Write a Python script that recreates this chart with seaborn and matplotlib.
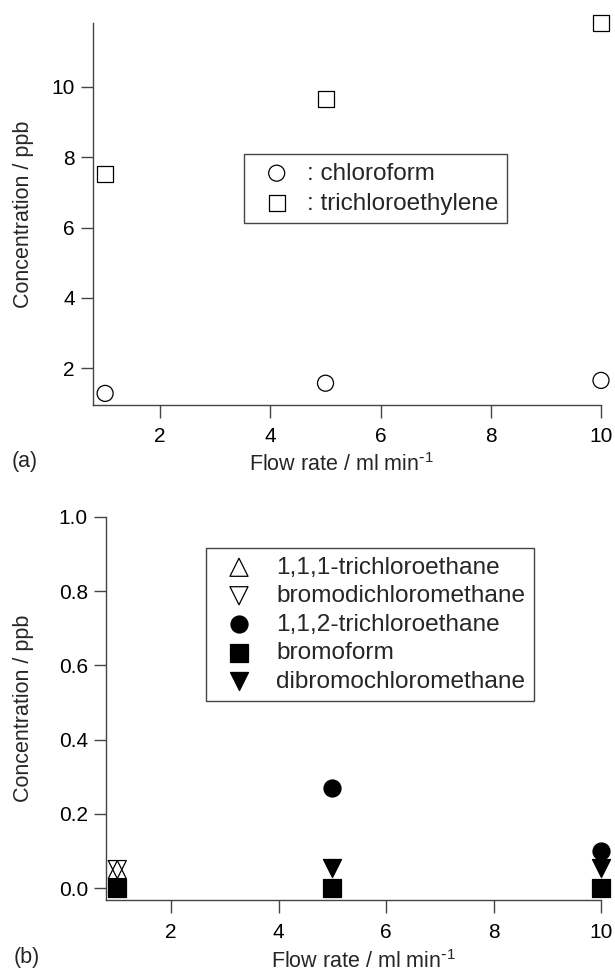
import matplotlib
matplotlib.use("Agg")
import matplotlib.pyplot as plt
import seaborn as sns

# panel (a)
flow_a = [1, 5, 10]
chloroform = [1.28, 1.57, 1.65]
trichloroethylene = [7.52, 9.66, 11.82]

# panel (b)
flow_111 = [1]
trichloroethane_111 = [0.05]
flow_bdcm = [1]
bromodichloromethane = [0.05]
flow_112 = [5, 10]
trichloroethane_112 = [0.27, 0.10]
flow_bromo = [1, 5, 10]
bromoform = [0.0, 0.0, 0.0]
flow_dbcm = [5, 10]
dibromochloromethane = [0.055, 0.055]

xticks = [2, 4, 6, 8, 10]
yticks_a = [2, 4, 6, 8, 10]
yticks_b = [0.0, 0.2, 0.4, 0.6, 0.8, 1.0]

sns.set_style("ticks")
plt.rcParams["font.family"] = ["Liberation Sans", "DejaVu Sans"]
plt.rcParams["mathtext.default"] = "regular"

AX_COLOR = "#444444"
XLABEL = r"Flow rate / ml min$^{\text{-}1}$"
YLABEL = "Concentration / ppb"

fig = plt.figure(figsize=(6.15, 9.76), dpi=100)
W, H = 615, 976


def px_axes(left, right, top, bottom):
    return fig.add_axes([left / W, 1 - bottom / H, (right - left) / W, (bottom - top) / H])


def style_axes(ax, xpad):
    for s in ["top", "right"]:
        ax.spines[s].set_visible(False)
    for s in ["left", "bottom"]:
        ax.spines[s].set_color(AX_COLOR)
        ax.spines[s].set_linewidth(1.0)
    ax.tick_params(axis="both", direction="out", length=9, width=1.0,
                   color=AX_COLOR, labelsize=15, labelcolor="black")
    ax.tick_params(axis="x", pad=xpad)
    ax.tick_params(axis="y", pad=4)
    ax.set_xticks(xticks)
    ax.set_xticklabels([str(t) for t in xticks])
    ax.grid(False)


def add_points(ax, x, y, marker, filled, size, label):
    sns.scatterplot(x=x, y=y, ax=ax, marker=marker, s=size,
                    facecolor="black" if filled else "none",
                    edgecolor="black", linewidth=0.9,
                    clip_on=False, zorder=3, label=label)


# ---- (a)
ax1 = px_axes(93, 601, 23, 405)
add_points(ax1, flow_a, chloroform, "o", False, 133, ": chloroform")
add_points(ax1, flow_a, trichloroethylene, "s", False, 133, ": trichloroethylene")
ax1.set_xlim(0.78, 10)
ax1.set_ylim(0.95, 11.82)
ax1.set_yticks(yticks_a)
ax1.set_yticklabels([str(t) for t in yticks_a])
style_axes(ax1, 6.5)
ax1.set_xlabel(XLABEL, fontsize=15.5)
ax1.set_ylabel(YLABEL, fontsize=15.5)
ax1.xaxis.set_label_coords(0.49, -0.126)
ax1.yaxis.set_label_coords(-0.117, 0.5)
leg1 = ax1.legend(loc="upper left", bbox_to_anchor=(0.297, 0.657), borderaxespad=0,
                  fontsize=17.5, frameon=True, fancybox=False, framealpha=1,
                  edgecolor=AX_COLOR, borderpad=0.35, handlelength=2.0,
                  handletextpad=0.24, labelspacing=0.33, scatterpoints=1)
leg1.get_frame().set_linewidth(1.0)

# ---- (b)
ax2 = px_axes(106, 601, 517, 900)
add_points(ax2, flow_111, trichloroethane_111, "^", False, 169, "1,1,1-trichloroethane")
add_points(ax2, flow_bdcm, bromodichloromethane, "v", False, 169, "bromodichloromethane")
add_points(ax2, flow_112, trichloroethane_112, "o", True, 150, "1,1,2-trichloroethane")
add_points(ax2, flow_bromo, bromoform, "s", True, 169, "bromoform")
add_points(ax2, flow_dbcm, dibromochloromethane, "v", True, 169, "dibromochloromethane")
ax2.set_xlim(0.79, 10)
ax2.set_ylim(-0.032, 1.0)
ax2.set_yticks(yticks_b)
ax2.set_yticklabels([f"{t:.1f}" for t in yticks_b])
style_axes(ax2, 7.5)
ax2.set_xlabel(XLABEL, fontsize=15.5)
ax2.set_ylabel(YLABEL, fontsize=15.5)
ax2.xaxis.set_label_coords(0.52, -0.13)
ax2.yaxis.set_label_coords(-0.145, 0.5)
leg2 = ax2.legend(loc="upper left", bbox_to_anchor=(0.202, 0.919), borderaxespad=0,
                  fontsize=17.6, frameon=True, fancybox=False, framealpha=1,
                  edgecolor=AX_COLOR, borderpad=0.35, handlelength=2.0,
                  handletextpad=0.53, labelspacing=0.26, scatterpoints=1)
leg2.get_frame().set_linewidth(1.0)

fig.text(12 / W, 1 - 462 / H, "(a)", fontsize=15.5, ha="left", va="center")
fig.text(14 / W, 1 - 958 / H, "(b)", fontsize=15.5, ha="left", va="center")

fig.savefig("out.png", dpi=100, facecolor="white")
